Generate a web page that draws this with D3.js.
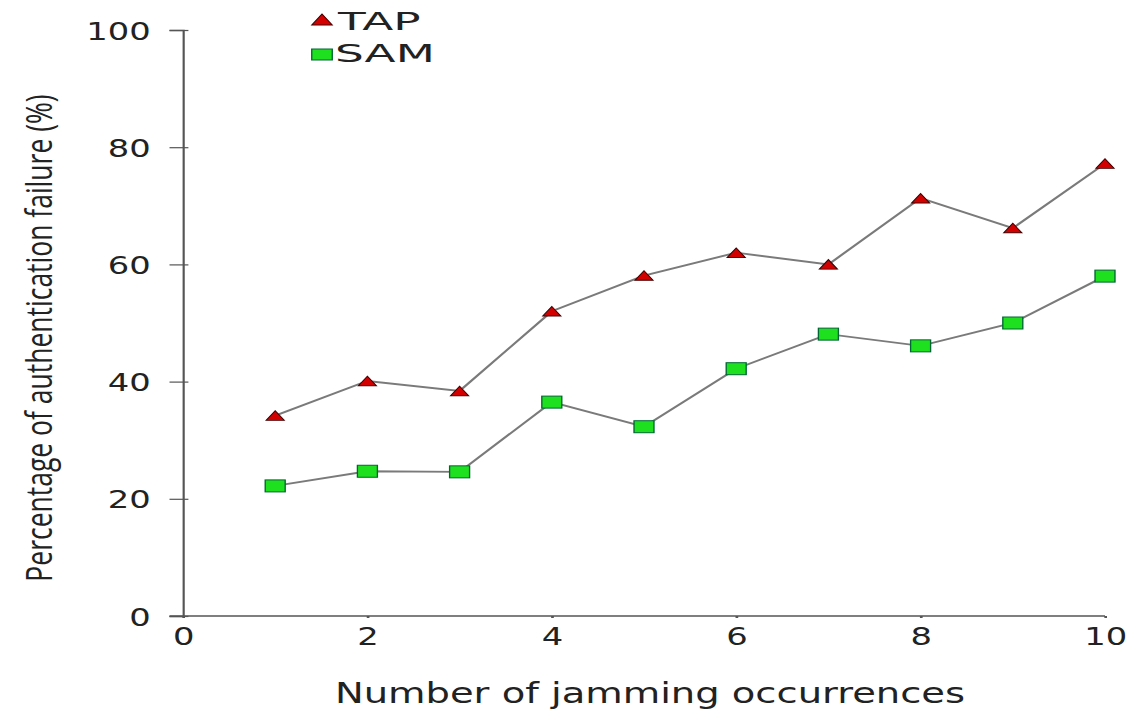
<!DOCTYPE html>
<html>
<head>
<meta charset="utf-8">
<script src="https://cdn.jsdelivr.net/npm/d3@7"></script>
<style>
  html, body { margin: 0; padding: 0; background: #fff; }
  svg { display: block; }
</style>
</head>
<body>
<div id="chart"></div>
<script>
// data
const jams = [1, 2, 3, 4, 5, 6, 7, 8, 9, 10];
const tap = [34.2, 40.1, 38.4, 52, 58.1, 62, 60, 71.3, 66.2, 77.2];
const sam = [22.2, 24.7, 24.6, 36.5, 32.3, 42.2, 48.1, 46.1, 50, 58];
const xTicks = [0, 2, 4, 6, 8, 10];
const yTicks = [0, 20, 40, 60, 80, 100];

const width = 1132, height = 715;
// the picture is stretched sideways, so draw in a narrower space and scale x
const sx = 1.35;

const svg = d3.select("#chart").append("svg")
  .attr("width", width)
  .attr("height", height);

const g = svg.append("g").attr("transform", `scale(${sx},1)`);

const x = d3.scaleLinear().domain([0, 10]).range([183 / sx, 1105 / sx]);
const y = d3.scaleLinear().domain([0, 100]).range([616, 30]);

const axisColor = "#555";
const font = "DejaVu Sans, Verdana, sans-serif";

// y axis
const yAxis = g.append("g")
  .attr("transform", `translate(${x(0)},0)`)
  .call(d3.axisLeft(y).tickValues(yTicks).tickSizeOuter(0).tickSize(10).tickPadding(14));
yAxis.select(".domain").attr("stroke", axisColor).attr("stroke-width", 1.6);
yAxis.selectAll(".tick line").attr("stroke", axisColor).attr("stroke-width", 1.2).attr("x2", 4).attr("x1", -10);
yAxis.selectAll(".tick text")
  .attr("font-family", font).attr("font-size", 25).attr("fill", "#222")
  .attr("dy", "0.36em");

// x axis
const xAxis = g.append("g")
  .attr("transform", `translate(0,${y(0)})`)
  .call(d3.axisBottom(x).tickValues(xTicks).tickSizeOuter(0).tickSize(2).tickPadding(9));
xAxis.select(".domain").attr("stroke", axisColor).attr("stroke-width", 1.6)
  .attr("d", `M${x(0) - 10},0H${x(10)}`);
xAxis.selectAll(".tick line").attr("stroke", axisColor).attr("stroke-width", 2);
xAxis.selectAll(".tick text")
  .attr("font-family", font).attr("font-size", 25).attr("fill", "#222")
  .attr("dy", "0.72em");

// axis titles
g.append("text")
  .attr("x", 650 / sx).attr("y", 703)
  .attr("text-anchor", "middle")
  .attr("font-family", font).attr("font-size", 28.5).attr("fill", "#222")
  .text("Number of jamming occurrences");

g.append("text")
  .attr("transform", `translate(${52 / sx},${338}) rotate(-90)`)
  .attr("text-anchor", "middle")
  .attr("font-family", "Open Sans, sans-serif").attr("font-size", 26.5).attr("fill", "#222")
  .text("Percentage of authentication failure (%)");

// lines
const line = d3.line().x((d, i) => x(jams[i])).y(d => y(d));
[tap, sam].forEach(s => {
  g.append("path").datum(s)
    .attr("d", line)
    .attr("fill", "none")
    .attr("stroke", "#7a7a7a")
    .attr("stroke-width", 1.9);
});

// markers
const tri = (cx, cy, hw, h) => `M${cx - hw},${cy + h / 2}L${cx + hw},${cy + h / 2}L${cx},${cy - h / 2}Z`;
g.append("g").selectAll("path").data(tap).join("path")
  .attr("d", (d, i) => tri(x(jams[i]), y(d), 6.7, 9.5))
  .attr("fill", "#d40000").attr("stroke", "#400").attr("stroke-width", 0.9);

g.append("g").selectAll("rect").data(sam).join("rect")
  .attr("x", (d, i) => x(jams[i]) - 7.4).attr("y", d => y(d) - 6)
  .attr("width", 14.8).attr("height", 12)
  .attr("fill", "#1ee01e").attr("stroke", "#063").attr("stroke-width", 1);

// legend
const legend = g.append("g");
legend.append("path").attr("d", tri(322 / sx, 19.5, 7.6, 11))
  .attr("fill", "#d40000").attr("stroke", "#400").attr("stroke-width", 0.9);
legend.append("text")
  .attr("transform", `translate(${338 / sx},30) scale(1.4,1)`)
  .attr("font-family", font).attr("font-size", 24).attr("fill", "#222").text("TAP");
legend.append("rect").attr("x", 322 / sx - 7.6).attr("y", 49).attr("width", 15.2).attr("height", 11)
  .attr("fill", "#1ee01e").attr("stroke", "#063").attr("stroke-width", 1);
legend.append("text")
  .attr("transform", `translate(${335 / sx},62) scale(1.4,1)`)
  .attr("font-family", font).attr("font-size", 24).attr("fill", "#222").text("SAM");
</script>
</body>
</html>
